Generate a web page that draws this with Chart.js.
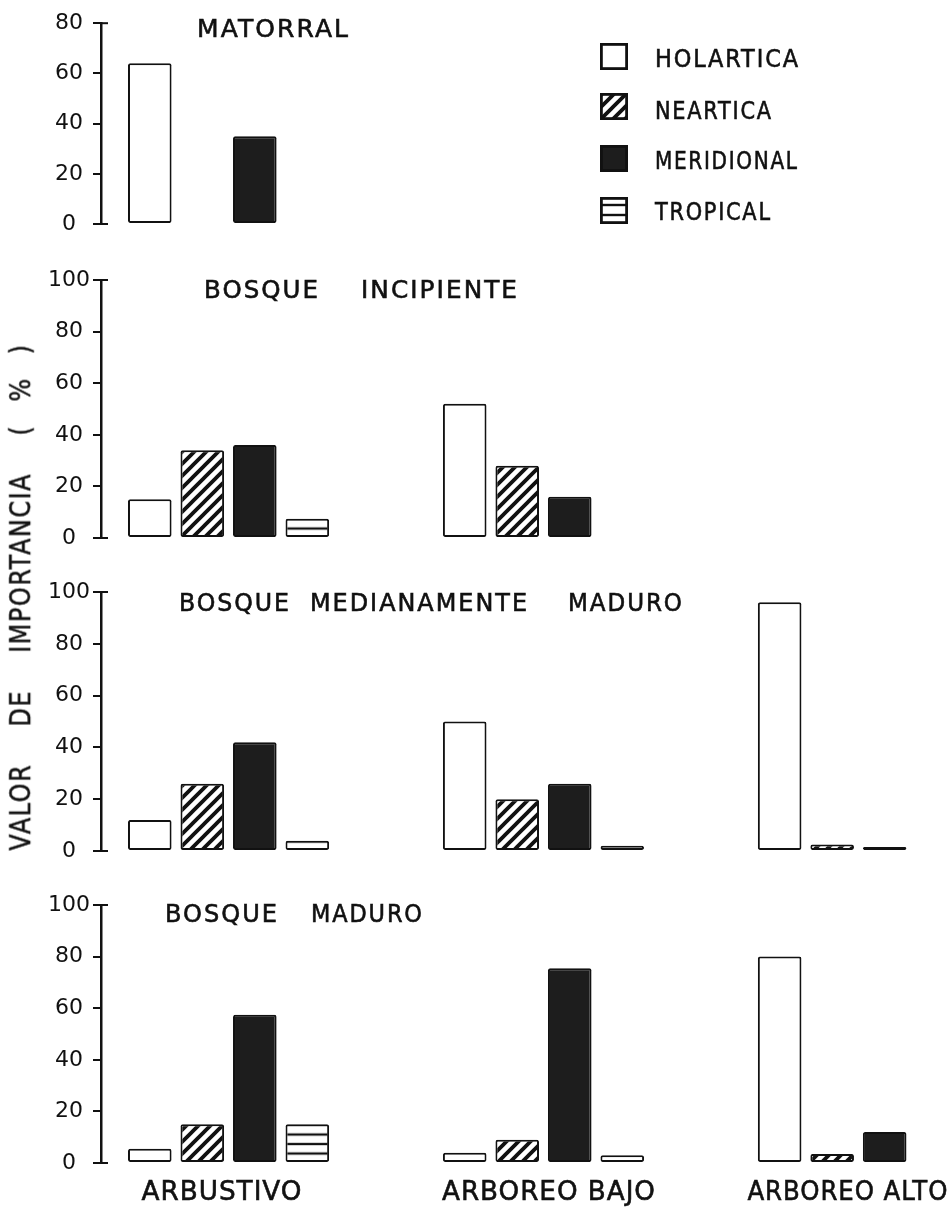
<!DOCTYPE html>
<html>
<head>
<meta charset="utf-8">
<script src="https://cdn.jsdelivr.net/npm/chart.js@4.4.1/dist/chart.umd.min.js"></script>
<style>
  body { margin: 0; background: #fff; }
  #page { position: relative; width: 948px; height: 1219px; overflow: hidden; background: #fff; }
  .panel { position: absolute; left: 0; width: 948px; }
  #ytitle {
    position: absolute; left: 21px; top: 597px;
    transform: translate(-50%, -50%) rotate(-90deg) scale(1, 1.2);
    font: 24px "DejaVu Sans", sans-serif; color: #111;
    letter-spacing: 1.5px; word-spacing: 28px; white-space: pre;
    -webkit-text-stroke: 0.4px #111;
  }
  #ytitle span { word-spacing: 14px; }
</style>
</head>
<body>
<div id="page">
  <div class="panel" style="top:0;height:250px"><canvas id="matorral"></canvas></div>
  <div class="panel" style="top:250px;height:310px"><canvas id="incipiente"></canvas></div>
  <div class="panel" style="top:560px;height:320px"><canvas id="mediano"></canvas></div>
  <div class="panel" style="top:880px;height:339px"><canvas id="maduro"></canvas></div>
  <div id="ytitle">VALOR DE IMPORTANCIA <span>( % )</span></div>
</div>
<script>
// strata along the x axis and the four biogeographic groups
const categories = ['ARBUSTIVO', 'ARBOREO BAJO', 'ARBOREO ALTO'];
const seriesNames = ['HOLARTICA', 'NEARTICA', 'MERIDIONAL', 'TROPICAL'];
const yTicksMatorral = [0, 20, 40, 60, 80];
const yTicksBosque = [0, 20, 40, 60, 80, 100];

// MATORRAL
const matorralHolartica = [64, null, null];
const matorralNeartica = [null, null, null];
const matorralMeridional = [35, null, null];
const matorralTropical = [null, null, null];

// BOSQUE INCIPIENTE
const incipienteHolartica = [15, 52, null];
const incipienteNeartica = [34, 28, null];
const incipienteMeridional = [36, 16, null];
const incipienteTropical = [7.5, null, null];

// BOSQUE MEDIANAMENTE MADURO
const medianoHolartica = [12, 50, 96];
const medianoNeartica = [26, 20, 2.5];
const medianoMeridional = [42, 26, 1.5];
const medianoTropical = [4, 2, null];

// BOSQUE MADURO
const maduroHolartica = [5.5, 4, 80];
const maduroNeartica = [15, 9, 3.5];
const maduroMeridional = [57.5, 75.5, 12];
const maduroTropical = [15, 3, null];

const INK = '#111';
const FONT = '"DejaVu Sans", sans-serif';

// x scale window so the three groups sit where the original drew them
const X_MIN = -0.405, X_MAX = 2.259;

function tile(size, draw) {
  const c = document.createElement('canvas');
  c.width = size; c.height = size;
  const g = c.getContext('2d');
  g.fillStyle = '#fff';
  g.fillRect(0, 0, size, size);
  draw(g, size);
  return c;
}

// "/" stripes: the diagonal x+y=n plus its copies through the corners
const hatchTile = tile(12, (g, n) => {
  g.strokeStyle = INK; g.lineWidth = 3.8;
  g.beginPath();
  g.moveTo(-2, n + 2); g.lineTo(n + 2, -2);
  g.moveTo(-2, 2); g.lineTo(2, -2);
  g.moveTo(n - 2, n + 2); g.lineTo(n + 2, n - 2);
  g.stroke();
});
const linesTile = tile(10, (g, n) => {
  g.fillStyle = INK;
  g.fillRect(0, 0, n, 1.2);
  g.fillRect(0, n - 1.2, n, 1.2);
});

function hatchFill(c) {
  const chart = c.chart;
  if (!chart.$hatch) chart.$hatch = chart.ctx.createPattern(hatchTile, 'repeat');
  return chart.$hatch;
}
function linesFill(c) {
  const chart = c.chart;
  if (!chart.$lines) chart.$lines = chart.ctx.createPattern(linesTile, 'repeat');
  const a = chart.chartArea;
  chart.$lines.setTransform(new DOMMatrix([1, 0, 0, 0.95, 0, a ? Math.round(a.bottom) : 0]));
  return chart.$lines;
}
const fills = ['#ffffff', hatchFill, '#1d1d1d', linesFill];

function fitText(ctx, text, x0, x1, yc, size, spacing) {
  ctx.save();
  ctx.font = size + 'px ' + FONT;
  ctx.letterSpacing = spacing + 'px';
  ctx.fillStyle = INK;
  ctx.strokeStyle = INK;
  ctx.lineWidth = 0.6;
  ctx.textBaseline = 'middle';
  ctx.textAlign = 'left';
  const w = ctx.measureText(text).width - spacing;
  ctx.translate(x0, yc);
  ctx.scale((x1 - x0) / w, 1);
  ctx.fillText(text, 0, 0);
  ctx.strokeText(text, 0, 0);
  ctx.restore();
}

// legend layout (top right of the first panel)
const legendBoxX = 600, legendBoxW = 28, legendBoxH = 27;
const legendBoxTop = [43, 93, 145, 197];
const legendTextX = 655;
const legendTextEnd = [798, 771, 797, 770];
const legendTextY = [61, 113, 163, 214];

// x labels: shift from group centre and width
const xLabelShift = [-7, 5, -11];
const xLabelWidth = [160, 213, 200];

const decor = {
  id: 'decor',
  afterDraw(chart, args, o) {
    const ctx = chart.ctx, ys = chart.scales.y, xs = chart.scales.x, area = chart.chartArea;
    // bracket ends of the y axis
    ctx.save();
    ctx.strokeStyle = INK; ctx.lineWidth = 2;
    [ys.getPixelForValue(ys.max), ys.getPixelForValue(0)].forEach(py => {
      ctx.beginPath(); ctx.moveTo(area.left - 1, py); ctx.lineTo(area.left + 7, py); ctx.stroke();
    });
    ctx.restore();

    o.title.split(' ').forEach((w, i) =>
      fitText(ctx, w, o.titleSpans[i][0], o.titleSpans[i][1], o.titleY, 24, 2));

    if (o.legend) {
      chart.data.datasets.forEach((ds, i) => {
        const top = legendBoxTop[i];
        ctx.save();
        let f = fills[i];
        if (i === 1) f = ctx.createPattern(hatchTile, 'repeat');
        if (i === 3) {
          f = ctx.createPattern(linesTile, 'repeat');
          f.setTransform(new DOMMatrix([1, 0, 0, 1, 0, top + legendBoxH - 9]));
        }
        ctx.fillStyle = f;
        ctx.fillRect(legendBoxX, top, legendBoxW, legendBoxH);
        ctx.strokeStyle = INK; ctx.lineWidth = 2.8;
        ctx.strokeRect(legendBoxX + 1.4, top + 1.4, legendBoxW - 2.8, legendBoxH - 2.8);
        ctx.restore();
        fitText(ctx, ds.label, legendTextX, legendTextEnd[i], legendTextY[i], 24, 2);
      });
    }

    if (o.xLabels) {
      categories.forEach((c, i) => {
        const cx = xs.getPixelForValue(i) + xLabelShift[i];
        fitText(ctx, c, cx - xLabelWidth[i] / 2, cx + xLabelWidth[i] / 2, area.bottom + 30, 27, 1);
      });
    }
  }
};

function makeChart(id, values, yTicks, cfg) {
  const datasets = seriesNames.map((name, s) => ({
    label: name,
    data: values[s].map((v, i) => ({ x: i, y: v })),
    backgroundColor: fills[s],
    borderColor: INK,
    borderWidth: 2,
    borderRadius: 2,
    borderSkipped: false,
    categoryPercentage: 0.667,
    barPercentage: 0.83
  }));
  return new Chart(document.getElementById(id), {
    type: 'bar',
    data: { datasets },
    options: {
      responsive: true,
      maintainAspectRatio: false,
      animation: false,
      layout: { padding: { top: cfg.top, bottom: cfg.bottom, left: 0, right: 8 } },
      plugins: {
        legend: { display: false },
        tooltip: { enabled: false },
        decor: cfg.decor
      },
      scales: {
        x: {
          type: 'linear', display: false, offset: false, min: X_MIN, max: X_MAX,
          afterBuildTicks: s => { s.ticks = categories.map((c, i) => ({ value: i })); }
        },
        y: {
          min: 0, max: yTicks[yTicks.length - 1],
          afterBuildTicks: s => { s.ticks = yTicks.map(v => ({ value: v })); },
          afterFit: s => { s.width = 101; },
          grid: { drawOnChartArea: false, drawTicks: true, tickLength: 8, color: INK, lineWidth: 2 },
          border: { display: true, color: INK, width: 2.5 },
          ticks: { color: INK, font: { family: FONT, size: 22 }, padding: cfg.tickPad, crossAlign: 'center' }
        }
      }
    },
    plugins: [decor]
  });
}

makeChart('matorral',
  [matorralHolartica, matorralNeartica, matorralMeridional, matorralTropical],
  yTicksMatorral,
  { top: 21, bottom: 26, tickPad: 10,
    decor: { title: 'MATORRAL', titleSpans: [[197, 348]], titleY: 30.5, legend: true } });

makeChart('incipiente',
  [incipienteHolartica, incipienteNeartica, incipienteMeridional, incipienteTropical],
  yTicksBosque,
  { top: 30, bottom: 22, tickPad: 3,
    decor: { title: 'BOSQUE INCIPIENTE', titleSpans: [[204, 318], [361, 517]], titleY: 41.5 } });

makeChart('mediano',
  [medianoHolartica, medianoNeartica, medianoMeridional, medianoTropical],
  yTicksBosque,
  { top: 32, bottom: 29, tickPad: 3,
    decor: { title: 'BOSQUE MEDIANAMENTE MADURO', titleSpans: [[179, 289], [310, 527], [568, 682]], titleY: 45 } });

makeChart('maduro',
  [maduroHolartica, maduroNeartica, maduroMeridional, maduroTropical],
  yTicksBosque,
  { top: 25, bottom: 56, tickPad: 3,
    decor: { title: 'BOSQUE MADURO', titleSpans: [[165, 277], [311, 422]], titleY: 36, xLabels: true } });
</script>
</body>
</html>
